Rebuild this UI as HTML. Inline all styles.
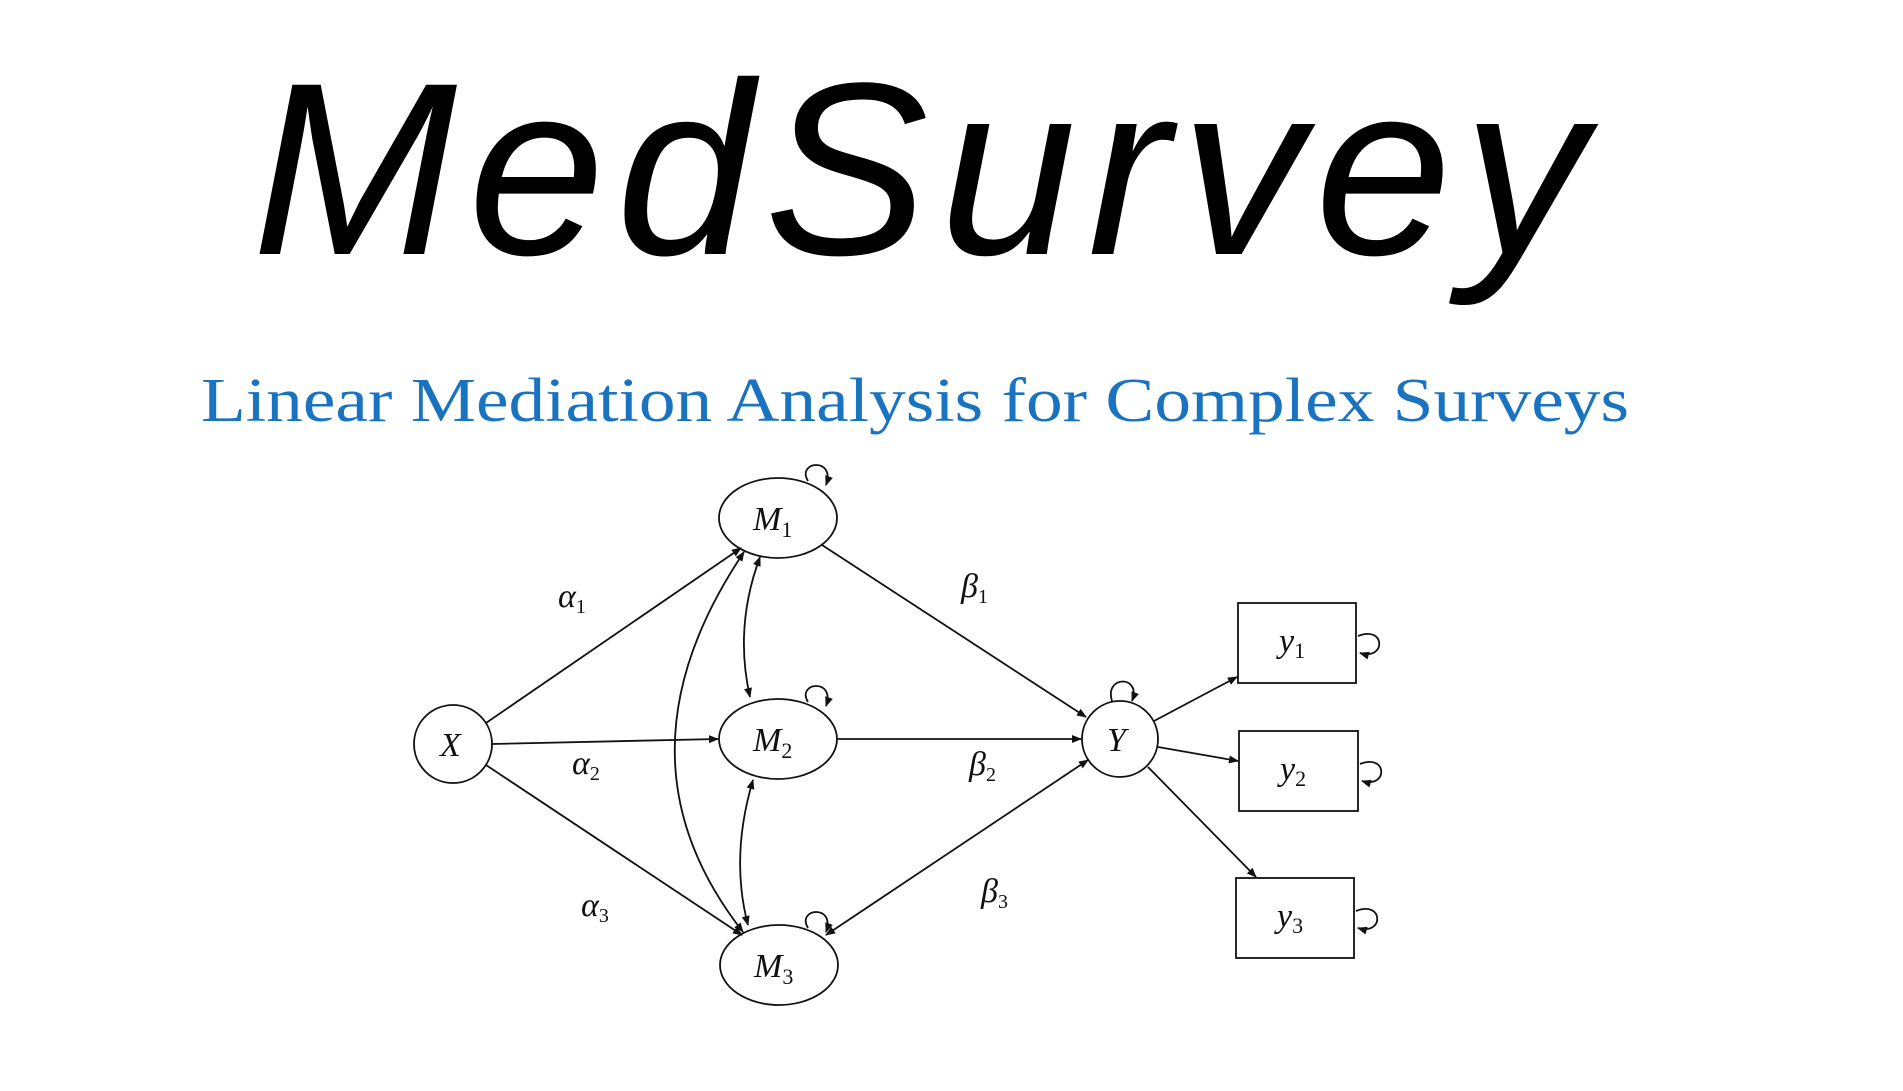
<!DOCTYPE html>
<html><head><meta charset="utf-8"><style>
html,body{margin:0;padding:0;background:#fff;width:1903px;height:1091px;overflow:hidden}
svg{display:block}
.t{font-family:"Liberation Serif",serif;font-style:italic;fill:#111}
</style></head><body>
<svg width="1903" height="1091" viewBox="0 0 1903 1091">
<defs><marker id="ar" markerWidth="10" markerHeight="8" refX="9" refY="4" orient="auto-start-reverse" markerUnits="userSpaceOnUse"><path d="M0,0 L10,4 L0,8 z" fill="#111"/></marker></defs>
<text x="252" y="254" font-family="Liberation Sans, sans-serif" font-style="italic" font-size="246" textLength="1334" lengthAdjust="spacing" fill="#000">MedSurvey</text>
<text x="201" y="421" font-family="Liberation Serif, serif" font-size="62" textLength="1428" lengthAdjust="spacingAndGlyphs" fill="#1a73c0">Linear Mediation Analysis for Complex Surveys</text>
<g transform="translate(-4,-3)">
<g stroke="#111" stroke-width="1.8" fill="none">
<ellipse cx="457" cy="747" rx="39" ry="39"/>
<ellipse cx="782" cy="521" rx="59" ry="40"/>
<ellipse cx="782" cy="742" rx="59" ry="40"/>
<ellipse cx="783" cy="968" rx="59" ry="40"/>
<ellipse cx="1124" cy="742" rx="38" ry="38"/>
<rect x="1242" y="606" width="118" height="80"/>
<rect x="1243" y="734" width="119" height="80"/>
<rect x="1240" y="881" width="118" height="80"/>
<g marker-end="url(#ar)">
<line x1="490" y1="726" x2="745" y2="551"/>
<line x1="496" y1="747" x2="722" y2="742"/>
<line x1="490" y1="768" x2="746" y2="938"/>
<line x1="826" y1="548" x2="1090" y2="720"/>
<line x1="841" y1="742" x2="1085" y2="742"/>
<line x1="1158" y1="724" x2="1241" y2="680"/>
<line x1="1162" y1="750" x2="1242" y2="764"/>
<line x1="1152" y1="770" x2="1260" y2="880"/>
<path d="M1092,763 L830,938" marker-start="url(#ar)"/>
<path d="M764,560 Q738,630 754,700" marker-start="url(#ar)"/>
<path d="M757,783 Q734,860 752,928" marker-start="url(#ar)"/>
<path d="M748,555 Q610,760 747,935" marker-start="url(#ar)"/>
<path d="M812,484 C800,464 840,460 830,488"/>
<path d="M812,705 C800,685 840,681 830,709"/>
<path d="M812,931 C800,911 840,907 830,935"/>
<path d="M1116,704 C1108,678 1146,678 1136,704"/>
<path d="M1362,639 C1390,628 1390,664 1364,656"/>
<path d="M1364,767 C1392,756 1392,792 1366,784"/>
<path d="M1360,914 C1388,903 1388,939 1362,931"/>
</g></g>
<g class="t" font-size="34">
<text x="444" y="759">X</text>
<text x="757" y="533">M<tspan font-size="22" font-style="normal" dy="7">1</tspan></text>
<text x="757" y="754">M<tspan font-size="22" font-style="normal" dy="7">2</tspan></text>
<text x="758" y="980">M<tspan font-size="22" font-style="normal" dy="7">3</tspan></text>
<text x="1111" y="754">Y</text>
<text x="1283" y="655">y<tspan font-size="22" font-style="normal" dy="6">1</tspan></text>
<text x="1284" y="783">y<tspan font-size="22" font-style="normal" dy="6">2</tspan></text>
<text x="1281" y="930">y<tspan font-size="22" font-style="normal" dy="6">3</tspan></text>
<text x="562" y="610">α<tspan font-size="20" font-style="normal" dy="6">1</tspan></text>
<text x="576" y="777">α<tspan font-size="20" font-style="normal" dy="6">2</tspan></text>
<text x="585" y="919">α<tspan font-size="20" font-style="normal" dy="6">3</tspan></text>
<text x="965" y="600">β<tspan font-size="20" font-style="normal" dy="6">1</tspan></text>
<text x="973" y="778">β<tspan font-size="20" font-style="normal" dy="6">2</tspan></text>
<text x="985" y="905">β<tspan font-size="20" font-style="normal" dy="6">3</tspan></text>
</g>
</g>
</svg>
</body></html>
